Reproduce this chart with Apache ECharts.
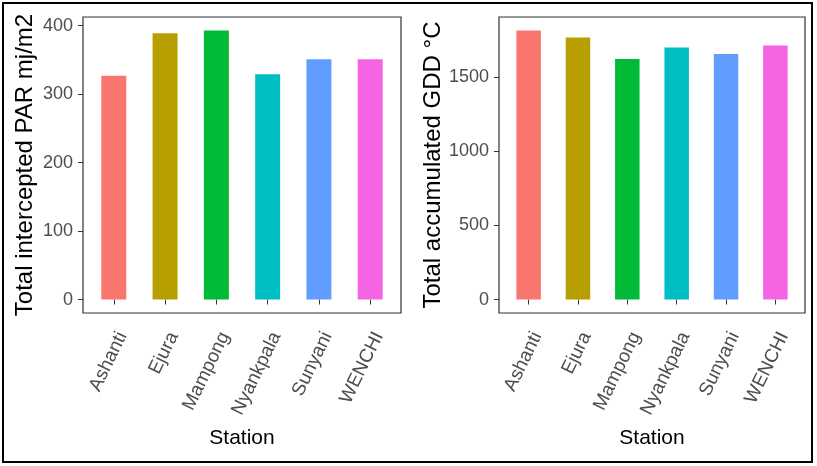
<!DOCTYPE html>
<html>
<head>
<meta charset="utf-8">
<script src="https://cdn.jsdelivr.net/npm/echarts@6/dist/echarts.min.js"></script>
<style>
html,body{margin:0;padding:0;background:#fff;}
#chart{width:817px;height:466px;}
</style>
</head>
<body>
<div id="chart"></div>
<script>
const stations = ["Ashanti", "Ejura", "Mampong", "Nyankpala", "Sunyani", "WENCHI"];
const parValues = [327, 389, 393, 329, 351, 351];
const gddValues = [1812, 1765, 1619, 1697, 1653, 1711];
const parTicks = [0, 100, 200, 300, 400];
const gddTicks = [0, 500, 1000, 1500];
const barColors = ["#F8766D", "#B79F00", "#00BA38", "#00BFC4", "#619CFF", "#F564E3"];
const xPositions = [1, 2, 3, 4, 5, 6];

const FONT = "Liberation Sans, Arial, sans-serif";
const chart = echarts.init(document.getElementById('chart'), null, {renderer: 'canvas'});

function barData(vals) {
  return vals.map((v, i) => ({value: [xPositions[i], v], itemStyle: {color: barColors[i]}}));
}
function xAxisCfg(gridIndex) {
  return {
    type: 'value', gridIndex: gridIndex, min: 0.4, max: 6.6,
    name: 'Station', nameLocation: 'middle', nameGap: 115,
    nameTextStyle: {fontFamily: FONT, fontSize: 21, color: '#000'},
    axisLine: {show: false},
    splitLine: {show: false},
    axisTick: {show: true, length: 5, lineStyle: {color: '#333', width: 1}, customValues: xPositions},
    axisLabel: {
      customValues: xPositions, rotate: 64, margin: 16,
      align: 'right', verticalAlign: 'top',
      fontFamily: FONT, fontSize: 19, color: '#4D4D4D',
      formatter: v => stations[Math.round(v) - 1] || ''
    }
  };
}
function yAxisCfg(gridIndex, name, lo, hi, ticks, gap) {
  return {
    type: 'value', gridIndex: gridIndex, min: lo, max: hi,
    name: name, nameLocation: 'middle', nameGap: gap,
    nameTextStyle: {fontFamily: FONT, fontSize: 24, color: '#000'},
    axisLine: {show: false},
    splitLine: {show: false},
    axisTick: {show: true, length: 5, lineStyle: {color: '#333', width: 1}, customValues: ticks},
    axisLabel: {customValues: ticks, margin: 10, fontFamily: FONT, fontSize: 18, color: '#4D4D4D',
      formatter: v => String(Math.round(v))}
  };
}

const parMax = 393 * 1.05, parMin = -393 * 0.05;
const gddMax = 1812 * 1.05, gddMin = -1812 * 0.05;

chart.setOption({
  animation: false,
  backgroundColor: '#fff',
  grid: [
    {left: 83, top: 17, width: 318, height: 296, show: true, borderColor: '#333', borderWidth: 1.2, backgroundColor: 'transparent'},
    {left: 499, top: 17, width: 306, height: 296, show: true, borderColor: '#333', borderWidth: 1.2, backgroundColor: 'transparent'}
  ],
  xAxis: [xAxisCfg(0), xAxisCfg(1)],
  yAxis: [
    yAxisCfg(0, 'Total intercepted PAR mj/m2', parMin, parMax, parTicks, 46),
    yAxisCfg(1, 'Total accumulated GDD °C', gddMin, gddMax, gddTicks, 50)
  ],
  series: [
    {type: 'bar', xAxisIndex: 0, yAxisIndex: 0, barWidth: 25, data: barData(parValues)},
    {type: 'bar', xAxisIndex: 1, yAxisIndex: 1, barWidth: 24.5, data: barData(gddValues)}
  ],
  graphic: [
    {type: 'rect', shape: {x: 3, y: 3, width: 809, height: 459}, style: {fill: 'none', stroke: '#000', lineWidth: 2}, z: 100}
  ]
});
</script>
</body>
</html>
